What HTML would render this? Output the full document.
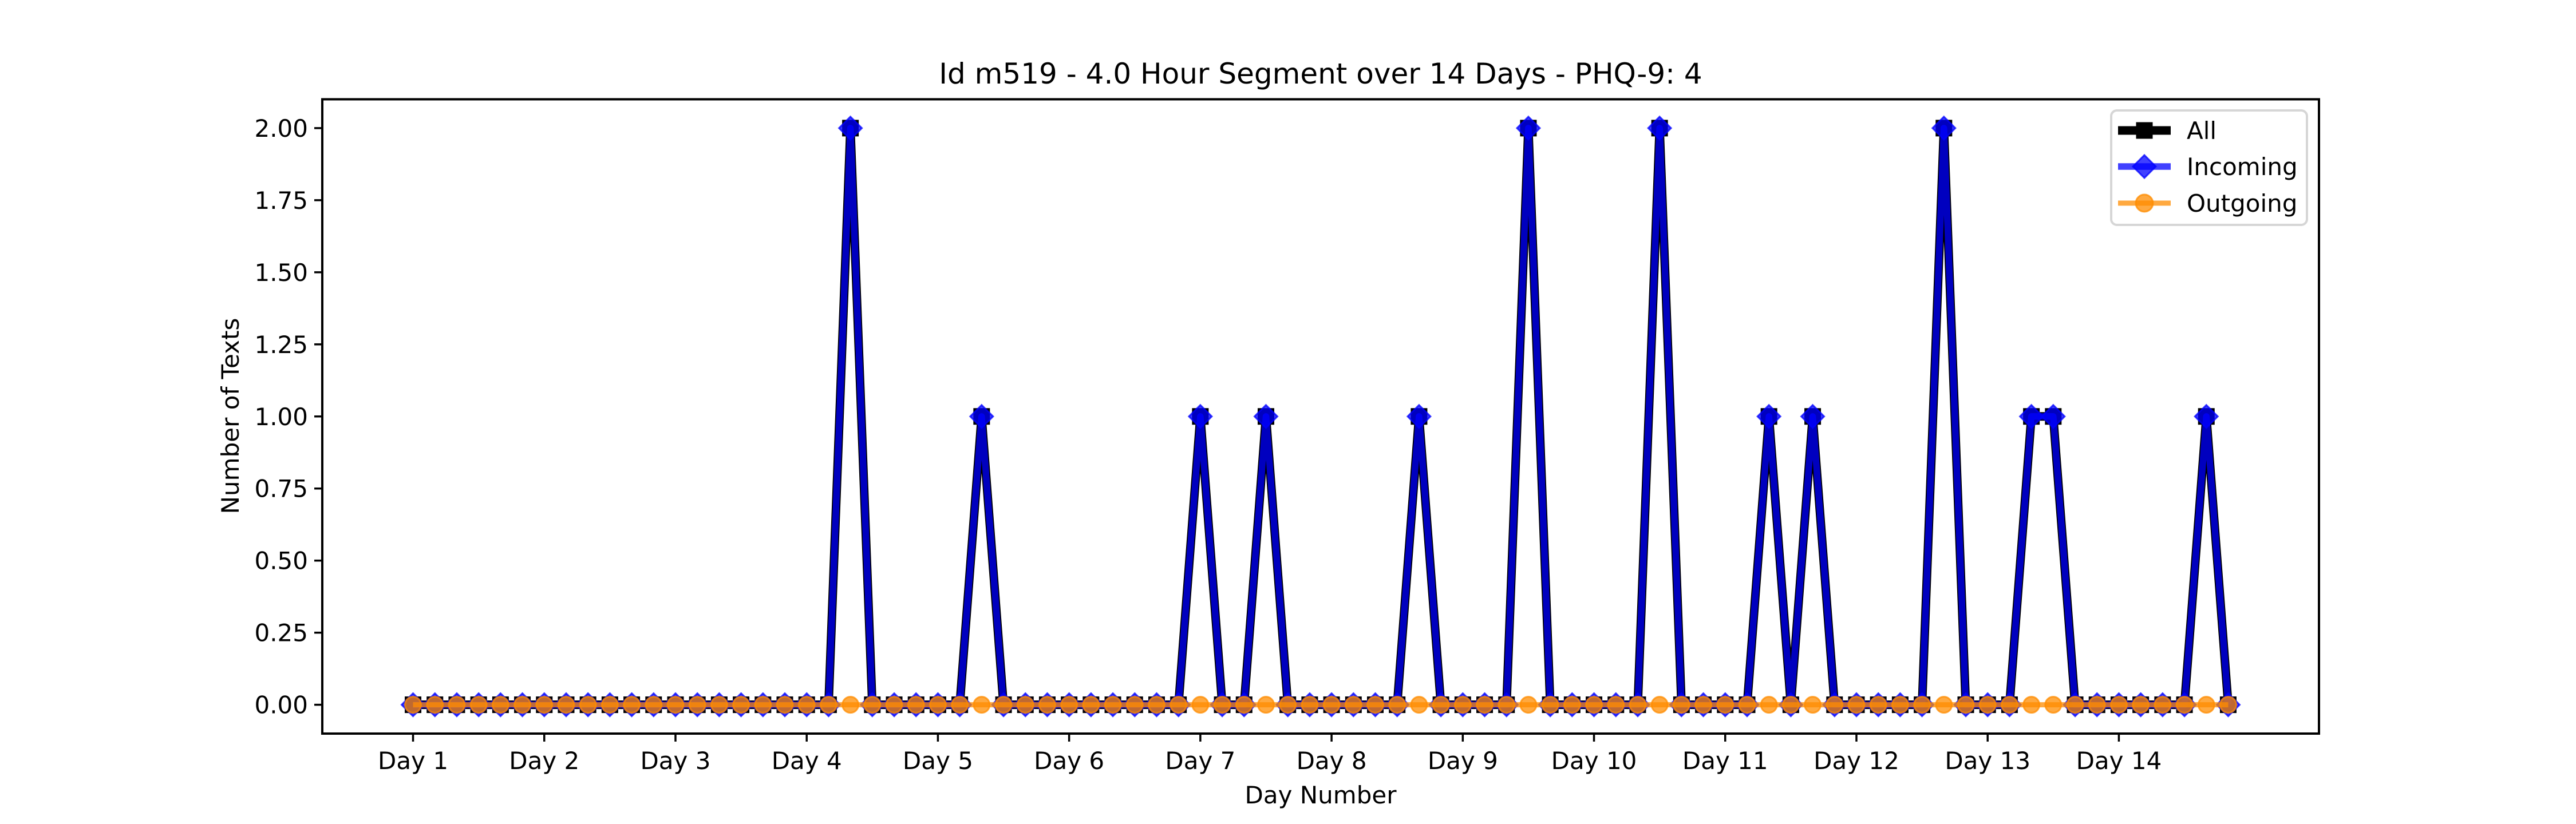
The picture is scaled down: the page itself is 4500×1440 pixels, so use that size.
<!DOCTYPE html>
<html><head><meta charset="utf-8"><style>
html,body{margin:0;padding:0;background:#fff;}
svg{display:block;font-family:"DejaVu Sans","Liberation Sans",sans-serif;}
</style></head><body>
<svg id="chart" width="4500" height="1440" viewBox="0 0 4500 1440" xmlns="http://www.w3.org/2000/svg">
<rect width="4500" height="1440" fill="#fff"/>
<text x="2307" y="146" font-size="50" text-anchor="middle">Id m519 - 4.0 Hour Segment over 14 Days - PHQ-9: 4</text>
<text x="2307" y="1404" font-size="42" text-anchor="middle">Day Number</text>
<text x="0" y="0" font-size="42" text-anchor="middle" transform="translate(417,727) rotate(-90)">Number of Texts</text>
<g id="grid"></g>
<g id="marks"></g>
<rect x="563" y="173.5" width="3488" height="1108.5" fill="none" stroke="#000" stroke-width="4"/>
<g id="legend">
<rect x="3688" y="193" width="342" height="200" rx="10" fill="#fff" fill-opacity="0.8" stroke="#d6d6d6" stroke-width="4"/>
<g>
<line x1="3700" y1="228" x2="3792" y2="228" stroke="#000" stroke-width="15"/>
<rect x="3731.5" y="213.5" width="29" height="29" fill="#000"/>
<text x="3820" y="243" font-size="42">All</text></g>
<g>
<line x1="3700" y1="291" x2="3792" y2="291" stroke="blue" stroke-opacity="0.75" stroke-width="11.5"/>
<polygon points="3746,271 3766,291 3746,311 3726,291" fill="blue" fill-opacity="0.75" stroke="blue" stroke-opacity="0.75" stroke-width="3"/>
<text x="3820" y="306" font-size="42">Incoming</text></g>
<g>
<line x1="3700" y1="355" x2="3792" y2="355" stroke="darkorange" stroke-opacity="0.75" stroke-width="9"/>
<circle cx="3746" cy="355" r="15" fill="darkorange" fill-opacity="0.75" stroke="darkorange" stroke-opacity="0.75" stroke-width="3"/>
<text x="3820" y="370" font-size="42">Outgoing</text></g>
</g>
</svg>
<script>
const dayLabels = ["Day 1","Day 2","Day 3","Day 4","Day 5","Day 6","Day 7","Day 8","Day 9","Day 10","Day 11","Day 12","Day 13","Day 14"];
const yTicks = [0,0.25,0.5,0.75,1,1.25,1.5,1.75,2];
const segmentsPerDay = 6;
const allValues = [0,0,0,0,0,0, 0,0,0,0,0,0, 0,0,0,0,0,0, 0,0,2,0,0,0, 0,0,1,0,0,0, 0,0,0,0,0,0, 1,0,0,1,0,0, 0,0,0,0,1,0, 0,0,0,2,0,0, 0,0,0,2,0,0, 0,0,1,0,1,0, 0,0,0,0,2,0, 0,0,1,1,0,0, 0,0,0,0,1,0];
const incomingValues = [0,0,0,0,0,0, 0,0,0,0,0,0, 0,0,0,0,0,0, 0,0,2,0,0,0, 0,0,1,0,0,0, 0,0,0,0,0,0, 1,0,0,1,0,0, 0,0,0,0,1,0, 0,0,0,2,0,0, 0,0,0,2,0,0, 0,0,1,0,1,0, 0,0,0,0,2,0, 0,0,1,1,0,0, 0,0,0,0,1,0];
const outgoingValues = [0,0,0,0,0,0, 0,0,0,0,0,0, 0,0,0,0,0,0, 0,0,0,0,0,0, 0,0,0,0,0,0, 0,0,0,0,0,0, 0,0,0,0,0,0, 0,0,0,0,0,0, 0,0,0,0,0,0, 0,0,0,0,0,0, 0,0,0,0,0,0, 0,0,0,0,0,0, 0,0,0,0,0,0, 0,0,0,0,0,0];

const NS = "http://www.w3.org/2000/svg";
const L = 563, R = 4051, T = 173.5, B = 1282;
const n = allValues.length;
const xmin = -0.05*(n-1), xmax = (n-1)*1.05;
const ymin = -0.1, ymax = 2.1;
const xs = i => L + (i - xmin) / (xmax - xmin) * (R - L);
const ys = v => B - (v - ymin) / (ymax - ymin) * (B - T);
function mk(tag, attrs, parent){const e=document.createElementNS(NS,tag);for(const k in attrs)e.setAttribute(k,attrs[k]);parent.appendChild(e);return e;}
const grid = document.getElementById('grid');
const marks = document.getElementById('marks');

yTicks.forEach(v=>{
  const g = mk('g',{},grid);
  
  
  mk('line',{x1:L-14,x2:L,y1:ys(v),y2:ys(v),stroke:'#000','stroke-width':3.5},g);
  const t = mk('text',{x:L-25,y:ys(v)+15,'font-size':42,'text-anchor':'end'},g);
  t.textContent = v.toFixed(2);
});
dayLabels.forEach((d,k)=>{
  const x = xs(k*segmentsPerDay);
  const g = mk('g',{},grid);
  
  
  mk('line',{x1:x,x2:x,y1:B,y2:B+14,stroke:'#000','stroke-width':3.5},g);
  const t = mk('text',{x:x,y:B+62,'font-size':42,'text-anchor':'middle'},g);
  t.textContent = d;
});

function series(vals, name, lineAttrs, drawMarker){
  const g = mk('g',{},marks);
  
  
  const pts = vals.map((v,i)=>xs(i).toFixed(1)+','+ys(v).toFixed(1)).join(' ');
  const pl = mk('polyline',Object.assign({points:pts,fill:'none','stroke-linejoin':'round'},lineAttrs),g);
  
  
  vals.forEach((v,i)=>{
    const m = drawMarker(xs(i), ys(v), g);
    
    
  });
}
series(allValues,'series-all',{stroke:'#000','stroke-width':15},(x,y,g)=>mk('rect',{x:x-14.5,y:y-14.5,width:29,height:29,fill:'#000'},g));
series(incomingValues,'series-incoming',{stroke:'blue','stroke-opacity':0.75,'stroke-width':11.5},(x,y,g)=>mk('polygon',{points:`${x},${y-20} ${x+20},${y} ${x},${y+20} ${x-20},${y}`,fill:'blue','fill-opacity':0.75,stroke:'blue','stroke-opacity':0.75,'stroke-width':3},g));
series(outgoingValues,'series-outgoing',{stroke:'darkorange','stroke-opacity':0.75,'stroke-width':9},(x,y,g)=>mk('circle',{cx:x,cy:y,r:14,fill:'darkorange','fill-opacity':0.75,stroke:'darkorange','stroke-opacity':0.75,'stroke-width':3},g));
</script>
</body></html>
